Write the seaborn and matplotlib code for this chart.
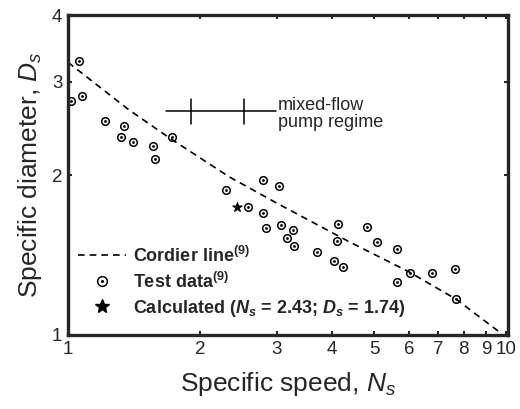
import numpy as np
import pandas as pd
import matplotlib
matplotlib.use("Agg")
import matplotlib.pyplot as plt
import seaborn as sns
from matplotlib.lines import Line2D
from matplotlib.ticker import FixedLocator, FixedFormatter, NullLocator

# ---- data ----
test_ns = [1.016, 1.059, 1.076, 1.216, 1.343, 1.32, 1.41, 1.56, 1.58, 1.73,
           2.29, 2.57, 2.78, 3.03, 2.79, 2.83, 3.06, 3.27, 3.16, 3.28, 3.71,
           4.14, 4.12, 4.04, 4.24, 4.81, 5.08, 5.65, 5.65, 6.03, 6.78, 7.65, 7.69]
test_ds = [2.76, 3.28, 2.82, 2.53, 2.47, 2.36, 2.31, 2.27, 2.14, 2.36,
           1.875, 1.74, 1.957, 1.91, 1.70, 1.59, 1.61, 1.576, 1.52, 1.47, 1.435,
           1.62, 1.505, 1.38, 1.34, 1.60, 1.494, 1.45, 1.258, 1.31, 1.31, 1.33, 1.17]
cordier_ns = [1.0, 1.38, 1.71, 2.33, 3.0, 4.37, 6.0, 7.7, 9.7]
cordier_ds = [3.26, 2.65, 2.345, 1.986, 1.77, 1.50, 1.315, 1.167, 1.01]
calc_ns = [2.43]
calc_ds = [1.74]
regime_ns = [1.676, 2.98]
regime_d = 2.64
regime_ticks = [1.904, 2.52]
regime_tick_span = [2.49, 2.78]
x_ticks = [1, 2, 3, 4, 5, 6, 7, 8, 9, 10]
y_ticks = [1, 2, 3, 4]

sns.set_style("ticks")
plt.rcParams['font.family'] = ['Liberation Sans', 'DejaVu Sans']
plt.rcParams['mathtext.fontset'] = 'custom'
plt.rcParams['mathtext.rm'] = 'Liberation Sans'
plt.rcParams['mathtext.it'] = 'Liberation Sans:italic'
plt.rcParams['mathtext.bf'] = 'Liberation Sans:bold'
plt.rcParams['mathtext.bfit'] = 'Liberation Sans:bold:italic'

fig = plt.figure(figsize=(5.2, 4.09), dpi=100)
ax = fig.add_axes([0.1308, 0.181, 0.846, 0.782])

df_test = pd.DataFrame({"Ns": test_ns, "Ds": test_ds})
df_cord = pd.DataFrame({"Ns": cordier_ns, "Ds": cordier_ds})
df_calc = pd.DataFrame({"Ns": calc_ns, "Ds": calc_ds})

sns.lineplot(data=df_cord, x="Ns", y="Ds", ax=ax, color="black", lw=1.2,
             linestyle=(0, (4, 3)), sort=False)
sns.scatterplot(data=df_test, x="Ns", y="Ds", ax=ax, marker="o", s=30,
                facecolor="white", edgecolor="black", linewidth=1.1)
ax.scatter(df_test["Ns"], df_test["Ds"], s=1, color="black", zorder=3)
sns.scatterplot(data=df_calc, x="Ns", y="Ds", ax=ax, marker="*", s=55,
                color="black", edgecolor="black", zorder=4)

# mixed-flow regime bar
ax.plot(regime_ns, [regime_d, regime_d], color="black", lw=1.1)
for t in regime_ticks:
    ax.plot([t, t], regime_tick_span, color="black", lw=1.1)
ax.text(3.01, regime_d * 0.985, "mixed-flow\npump regime", fontsize=13,
        va="center", ha="left", linespacing=1.0)

ax.set_xscale("log")
ax.set_yscale("log")
ax.set_xlim(1, 10.1)
ax.set_ylim(1, 4)
ax.xaxis.set_major_locator(FixedLocator(x_ticks))
ax.xaxis.set_major_formatter(FixedFormatter([str(v) for v in x_ticks]))
ax.xaxis.set_minor_locator(NullLocator())
ax.yaxis.set_major_locator(FixedLocator(y_ticks))
ax.yaxis.set_major_formatter(FixedFormatter([str(v) for v in y_ticks]))
ax.yaxis.set_minor_locator(NullLocator())
ax.tick_params(direction="in", length=3, width=1.5, top=True, right=True,
               labelsize=13.5, pad=4)
for s in ax.spines.values():
    s.set_linewidth(2.4)
    s.set_visible(True)

ax.set_xlabel("Specific speed, $N_s$", fontsize=19, labelpad=9)
ax.set_ylabel("Specific diameter, $D_s$", fontsize=19, labelpad=6)

circ = Line2D([], [], marker="o", color="none", markerfacecolor="white",
              markeredgecolor="black", markersize=7, markeredgewidth=1.1)
dot = Line2D([], [], marker="o", color="none", markerfacecolor="black",
             markeredgecolor="black", markersize=1.2)
handles = [
    Line2D([], [], color="black", lw=1.2, linestyle=(0, (4, 3))),
    (circ, dot),
    Line2D([], [], marker="*", color="none", markerfacecolor="black",
           markeredgecolor="black", markersize=10),
]
labels = [
    r"Cordier line$^{\mathbf{(9)}}$",
    r"Test data$^{\mathbf{(9)}}$",
    r"Calculated ($\mathbfit{N}_{\mathbfit{s}}$ = 2.43; $\mathbfit{D}_{\mathbfit{s}}$ = 1.74)",
]
leg = ax.legend(handles, labels, loc="lower left", frameon=False,
                prop={"size": 13, "weight": "bold"}, handlelength=2.7,
                handletextpad=0.35, labelspacing=0.33,
                bbox_to_anchor=(-0.015, 0.0))

fig.savefig("out.png", dpi=100)
